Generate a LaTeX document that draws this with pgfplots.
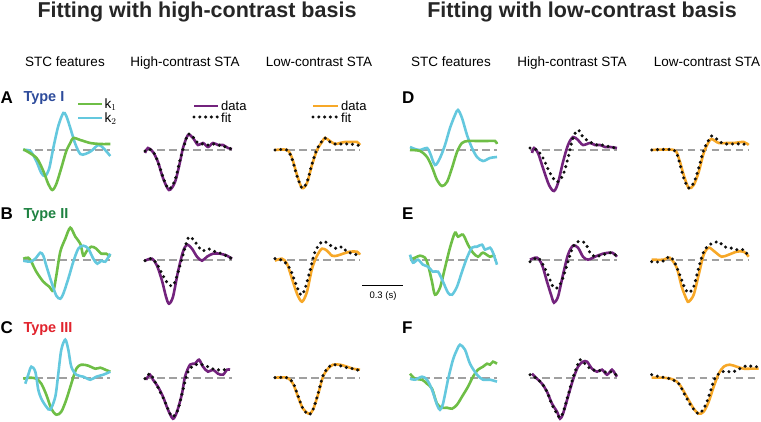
\documentclass[border=0pt]{standalone}
\usepackage{pgfplots}
\pgfplotsset{compat=1.18}
\usepackage{fontspec}
\setmainfont{Liberation Sans}
\definecolor{cgreen}{RGB}{110,190,70}
\definecolor{ccyan}{RGB}{100,200,222}
\definecolor{cpurple}{RGB}{115,35,125}
\definecolor{corange}{RGB}{247,168,40}
\definecolor{cgray}{RGB}{160,160,160}
\definecolor{cdot}{RGB}{15,15,15}
\definecolor{tblue}{RGB}{45,75,155}
\definecolor{tgreen}{RGB}{30,130,65}
\definecolor{tred}{RGB}{225,35,45}
\pgfplotsset{
  panel/.style={hide axis, x=1pt, y=1pt, xmin=0, xmax=110, ymin=-50, ymax=50, clip=false, anchor=south west},
  zl/.style={cgray, line width=1.7pt, dash pattern=on 7.5pt off 4.5pt, no marks},
  k1/.style={cgreen, line width=2.6pt, smooth, no marks},
  k2/.style={ccyan, line width=2.6pt, smooth, no marks},
  hd/.style={cpurple, line width=2.6pt, smooth, no marks},
  ld/.style={corange, line width=2.6pt, smooth, no marks},
  ft/.style={cdot, line width=3.4pt, line cap=round, dash pattern=on 0pt off 5.8pt, smooth, no marks},
}
\begin{document}
\begin{tikzpicture}
\useasboundingbox (0,0) rectangle (761pt,421pt);
% titles
\node[anchor=base, inner sep=0pt, font=\bfseries\fontsize{21.5}{23}\selectfont, text=black!85] at (197pt,403.5pt) {Fitting with high-contrast basis};
\node[anchor=base, inner sep=0pt, font=\bfseries\fontsize{21.5}{23}\selectfont, text=black!85] at (582pt,403.5pt) {Fitting with low-contrast basis};
% column headers
\foreach \cx/\txt in {65/STC features,185/High-contrast STA,319/Low-contrast STA,451/STC features,572/High-contrast STA,707/Low-contrast STA}
  \node[anchor=base, inner sep=0pt, font=\fontsize{13.5}{15}\selectfont] at (\cx pt,354.5pt) {\txt};
% panel letters
\foreach \lx/\ly/\l in {0.5/317/A,0.5/201/B,0.5/88/C,402/317/D,402/201/E,402/88/F}
  \node[anchor=base west, inner sep=0pt, font=\bfseries\fontsize{17}{18}\selectfont] at (\lx pt,\ly pt) {\l};
\node[anchor=base west, inner sep=0pt, text=tblue, font=\bfseries\fontsize{14.5}{16}\selectfont] at (23.3pt,319pt) {Type I};
\node[anchor=base west, inner sep=0pt, text=tgreen, font=\bfseries\fontsize{14.5}{16}\selectfont] at (23.3pt,202pt) {Type II};
\node[anchor=base west, inner sep=0pt, text=tred, font=\bfseries\fontsize{14.5}{16}\selectfont] at (23.3pt,89pt) {Type III};
% scale bar
\draw[line width=0.8pt] (362pt,136pt) -- (403pt,136pt);
\node[anchor=base, inner sep=0pt, font=\fontsize{9.5}{10}\selectfont] at (383pt,122pt) {0.3 (s)};

% ================= Row A =================
\begin{axis}[panel, at={(23.3pt,221pt)}]
\addplot[zl] coordinates {(0,0)(87,0)};
\addplot[k2] coordinates {(0,0)(7,-1)(13,-11)(18,-23)(22,-26)(26,-18)(30,2)(35,24)(40,37)(43,34)(47,22)(52,6)(57,-4)(62,-4)(68,-1)(75,5)(80,2)(87,-6)};
\addplot[k1] coordinates {(0,0.7)(13,-7.7)(20,-21)(25,-34)(29,-40)(33,-34)(38,-18)(43,-1)(47,7)(50,12)(57,10)(67,7)(77,6)(87,6)};
\addplot[k1] coordinates {(54.7,46)(78.7,46)};
\addplot[k2] coordinates {(54.7,32)(78.7,32)};
\node[anchor=west, font=\fontsize{13.5}{15}\selectfont, inner sep=0pt] at (axis cs:81,45) {k$_1$};
\node[anchor=west, font=\fontsize{13.5}{15}\selectfont, inner sep=0pt] at (axis cs:81,31) {k$_2$};
\end{axis}
\begin{axis}[panel, at={(145pt,221pt)}]
\addplot[zl] coordinates {(0,0)(87,0)};
\addplot[hd] coordinates {(0,-3)(3,2)(8,-2)(13,-12)(18,-28)(24,-40)(30,-32)(35,-12)(38,2)(43,15)(48,12)(53,5)(58,7)(63,3)(68,7)(73,5)(78,5)(83,2)(87,1)};
\addplot[ft] coordinates {(0,-1)(4,1)(9,-3)(14,-15)(19,-30)(24,-39)(30,-30)(35,-10)(39,4)(43,16)(47,14)(53,7)(58,6)(63,5)(68,6)(73,5)(78,4)(83,2)(87,1)};
\addplot[hd] coordinates {(49,44)(73,44)};
\addplot[ft] coordinates {(49,33)(73,33)};
\node[anchor=west, font=\fontsize{13}{14}\selectfont, inner sep=0pt] at (axis cs:76,44) {data};
\node[anchor=west, font=\fontsize{13}{14}\selectfont, inner sep=0pt] at (axis cs:76,32.5) {fit};
\end{axis}
\begin{axis}[panel, at={(275pt,221pt)}]
\addplot[zl] coordinates {(0,0)(85,0)};
\addplot[ld] coordinates {(0,0)(12,0)(17,-8)(22,-25)(27,-38)(32,-33)(37,-15)(42,0)(47,8)(50,12)(55,9)(60,6)(65,7)(70,8)(75,8)(82,8)(85,5)};
\addplot[ft] coordinates {(0,0)(12,0)(17,-9)(22,-26)(27,-38)(32,-32)(37,-14)(42,1)(47,9)(50,12)(55,8)(60,6)(65,6)(70,6)(75,6)(82,5)(85,4)};
\addplot[ld] coordinates {(38,44)(63,44)};
\addplot[ft] coordinates {(38,33)(63,33)};
\node[anchor=west, font=\fontsize{13}{14}\selectfont, inner sep=0pt] at (axis cs:66,44) {data};
\node[anchor=west, font=\fontsize{13}{14}\selectfont, inner sep=0pt] at (axis cs:66,32.5) {fit};
\end{axis}

% ================= Row D =================
\begin{axis}[panel, at={(410pt,221pt)}]
\addplot[zl] coordinates {(0,0)(87,0)};
\addplot[k2] coordinates {(0,3)(5,1)(10,0)(17,2)(20,-3)(25,-15)(30,-8)(35,5)(40,22)(45,35)(48,40)(52,32)(57,15)(62,2)(67,-7)(73,-11)(80,-8)(87,-7)};
\addplot[k1] coordinates {(0,0)(10,-1)(17,-7)(22,-17)(27,-30)(32,-36)(37,-32)(42,-18)(47,-2)(52,7)(58,9)(67,9)(77,9)(85,9)(87,6)};
\end{axis}
\begin{axis}[panel, at={(530pt,221pt)}]
\addplot[zl] coordinates {(0,0)(87,0)};
\addplot[hd] coordinates {(2,-3)(4,2)(8,-3)(13,-18)(19,-35)(24,-41)(28,-33)(33,-12)(38,5)(43,13)(48,10)(53,5)(60,7)(65,5)(70,5)(75,3)(80,3)(87,2)};
\addplot[ft] coordinates {(0,2)(7,0)(13,-8)(20,-23)(27,-32)(33,-25)(38,-8)(43,12)(48,20)(53,13)(60,8)(67,5)(73,5)(80,3)(87,2)};
\end{axis}
\begin{axis}[panel, at={(651.7pt,221pt)}]
\addplot[zl] coordinates {(0,0)(97,0)};
\addplot[ld] coordinates {(0,0)(22,0)(27,-8)(32,-25)(37,-38)(42,-35)(47,-22)(52,-3)(57,8)(60,11)(67,7)(75,7)(82,7)(92,8)(97,5)};
\addplot[ft] coordinates {(0,0)(22,0)(27,-10)(32,-28)(37,-38)(42,-33)(47,-18)(52,0)(57,10)(60,14)(65,11)(70,7)(75,6)(82,6)(92,6)(97,3)};
\end{axis}

% ================= Row B =================
\begin{axis}[panel, at={(23.3pt,111.3pt)}]
\addplot[zl] coordinates {(0,0)(87,0)};
\addplot[k1] coordinates {(0,1)(5,2)(8,-2)(13,-12)(20,-22)(26,-27)(30,-31)(33,-16)(37,8)(42,21)(47,32)(52,23)(57,16)(60,4)(63,8)(68,13)(73,11)(78,6)(83,6)(87,3)};
\addplot[k2] coordinates {(0,-1)(7,-2)(12,1)(17,7)(20,4)(23,-6)(28,-22)(33,-36)(37,-39)(40,-34)(45,-19)(50,-2)(55,11)(60,14)(65,11)(70,1)(74,-4)(78,-1)(82,-2)(87,6)};
\end{axis}
\begin{axis}[panel, at={(145pt,111.3pt)}]
\addplot[zl] coordinates {(0,0)(87,0)};
\addplot[hd] coordinates {(0,-1)(7,1)(12,-6)(17,-21)(21,-37)(24,-44)(28,-37)(33,-12)(38,8)(42,15)(47,11)(52,3)(57,-1)(62,3)(68,6)(75,6)(82,4)(87,1)};
\addplot[ft] coordinates {(0,-1)(7,1)(13,-6)(18,-16)(23,-24)(28,-26)(32,-16)(37,1)(42,19)(45,23)(50,18)(57,9)(63,11)(70,8)(77,6)(87,1)};
\end{axis}
\begin{axis}[panel, at={(275pt,111.3pt)}]
\addplot[zl] coordinates {(0,0)(85,0)};
\addplot[ld] coordinates {(0,-1)(7,1)(12,-4)(17,-19)(22,-34)(27,-42)(32,-32)(37,-9)(42,4)(47,11)(52,9)(57,4)(62,4)(68,6)(75,8)(82,8)(85,5)};
\addplot[ft] coordinates {(0,1)(8,-1)(15,-9)(20,-22)(25,-34)(27,-35)(30,-29)(35,-11)(40,8)(47,18)(52,17)(57,13)(62,11)(67,13)(72,8)(78,6)(85,4)};
\end{axis}

% ================= Row E =================
\begin{axis}[panel, at={(410pt,111.3pt)}]
\addplot[zl] coordinates {(0,0)(87,0)};
\addplot[k1] coordinates {(0,0)(5,2)(10,4)(15,2)(18,-5)(22,-22)(25,-35)(30,-28)(35,-8)(40,12)(45,27)(48,23)(53,25)(58,15)(63,7)(68,3)(73,7)(80,3)(85,5)};
\addplot[k2] coordinates {(0,5)(3,-3)(8,0)(13,-5)(18,-7)(23,-12)(28,-12)(33,-22)(38,-33)(42,-35)(47,-27)(52,-12)(57,2)(62,12)(67,13)(72,15)(75,10)(80,12)(83,7)(87,-5)};
\end{axis}
\begin{axis}[panel, at={(530pt,111.3pt)}]
\addplot[zl] coordinates {(0,0)(87,0)};
\addplot[hd] coordinates {(0,0)(7,2)(12,-5)(17,-22)(22,-38)(24,-43)(28,-37)(33,-15)(38,5)(43,14)(48,12)(53,3)(58,0)(65,3)(73,6)(82,7)(87,3)};
\addplot[ft] coordinates {(0,-2)(8,2)(13,-5)(18,-15)(23,-27)(28,-28)(33,-18)(38,-2)(43,13)(48,18)(55,17)(60,7)(65,3)(73,5)(82,7)(87,3)};
\end{axis}
\begin{axis}[panel, at={(651.7pt,111.3pt)}]
\addplot[zl] coordinates {(0,0)(97,0)};
\addplot[ld] coordinates {(0,0)(12,0)(18,2)(25,-8)(30,-27)(35,-40)(37,-42)(42,-35)(47,-15)(52,5)(57,12)(63,8)(70,3)(77,5)(85,8)(92,8)(97,3)};
\addplot[ft] coordinates {(0,-2)(10,-2)(18,3)(23,-3)(28,-15)(33,-28)(37,-33)(42,-27)(47,-8)(52,8)(58,15)(67,18)(72,13)(78,12)(85,10)(92,10)(97,3)};
\end{axis}

% ================= Row C =================
\begin{axis}[panel, at={(23.3pt,-6.7pt)}]
\addplot[zl] coordinates {(0,0)(87,0)};
\addplot[k1] coordinates {(0,-1)(7,0)(13,-1)(18,-6)(23,-17)(28,-31)(33,-37)(38,-34)(43,-22)(48,-6)(53,9)(58,13)(65,12)(72,9)(77,10)(82,8)(87,6)};
\addplot[k2] coordinates {(2,-6)(5,3)(8,11)(12,6)(15,-12)(18,-21)(23,-29)(27,-32)(32,-19)(35,4)(38,28)(42,38)(45,28)(48,11)(53,3)(60,1)(67,-2)(73,1)(80,3)(87,6)};
\end{axis}
\begin{axis}[panel, at={(145pt,-6.7pt)}]
\addplot[zl] coordinates {(0,0)(87,0)};
\addplot[hd] coordinates {(1,-2)(5,3)(8,-2)(13,-9)(18,-19)(23,-32)(28,-41)(32,-34)(37,-16)(40,1)(45,13)(50,14)(54,18)(58,11)(63,6)(68,8)(73,4)(78,3)(82,8)(85,8)};
\addplot[ft] coordinates {(0,-1)(5,4)(10,-4)(15,-14)(20,-24)(25,-36)(28,-39)(33,-32)(38,-12)(43,6)(50,13)(57,13)(63,11)(70,8)(77,8)(85,8)};
\end{axis}
\begin{axis}[panel, at={(275pt,-6.7pt)}]
\addplot[zl] coordinates {(0,0)(85,0)};
\addplot[ld] coordinates {(0,0)(12,0)(18,-6)(23,-19)(28,-31)(34,-36)(38,-32)(43,-17)(48,1)(53,9)(58,13)(65,13)(72,11)(78,9)(85,8)};
\addplot[ft] coordinates {(0,0)(12,0)(18,-5)(23,-18)(28,-31)(34,-37)(38,-32)(43,-16)(48,2)(53,10)(58,13)(65,12)(72,10)(78,9)(85,7)};
\end{axis}

% ================= Row F =================
\begin{axis}[panel, at={(410pt,-6.7pt)}]
\addplot[zl] coordinates {(0,0)(87,0)};
\addplot[k1] coordinates {(0,4)(5,-1)(12,-2)(17,-6)(22,-11)(27,-26)(32,-30)(37,-30)(42,-31)(47,-27)(52,-19)(58,-9)(63,1)(68,8)(73,11)(77,14)(80,13)(83,16)(87,14)};
\addplot[k2] coordinates {(0,-1)(5,-2)(12,1)(17,-2)(22,-12)(27,-27)(30,-32)(33,-26)(38,-2)(43,18)(47,28)(50,33)(55,28)(60,14)(67,3)(73,-2)(80,-2)(87,-4)};
\end{axis}
\begin{axis}[panel, at={(530pt,-6.7pt)}]
\addplot[zl] coordinates {(0,0)(87,0)};
\addplot[hd] coordinates {(2,4)(7,-1)(12,-6)(17,-14)(22,-26)(27,-34)(30,-41)(33,-36)(38,-19)(43,-2)(48,11)(53,16)(57,16)(62,9)(67,6)(72,8)(77,3)(82,8)(85,4)(87,1)};
\addplot[ft] coordinates {(0,3)(7,-1)(12,-6)(17,-14)(22,-27)(27,-36)(30,-40)(33,-35)(38,-18)(43,0)(48,14)(50,18)(55,14)(60,9)(67,7)(72,7)(77,5)(82,6)(87,2)};
\end{axis}
\begin{axis}[panel, at={(651.7pt,-6.7pt)}]
\addplot[zl] coordinates {(0,0)(107,0)};
\addplot[ld] coordinates {(0,0)(12,0)(22,-2)(28,-7)(35,-19)(42,-31)(47,-36)(52,-34)(57,-24)(62,-9)(67,4)(72,11)(78,13)(85,11)(92,9)(98,9)(107,9)};
\addplot[ft] coordinates {(0,3)(8,1)(18,-1)(27,-6)(33,-17)(40,-29)(47,-36)(53,-29)(58,-16)(63,-1)(70,6)(77,6)(82,6)(88,9)(95,12)(102,11)(107,11)};
\end{axis}
\end{tikzpicture}
\end{document}
